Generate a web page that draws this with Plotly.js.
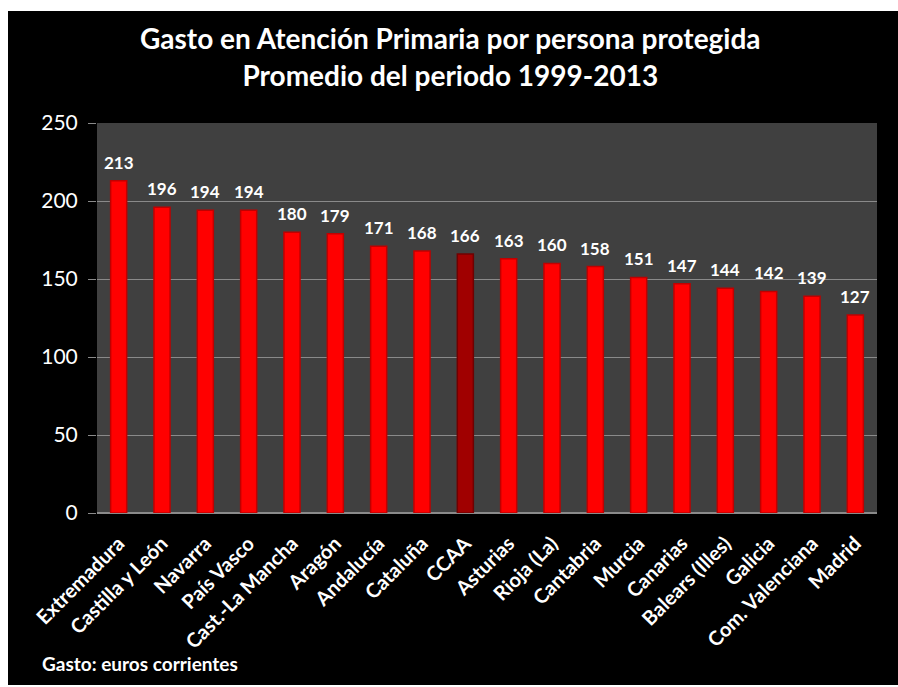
<!DOCTYPE html>
<html>
<head>
<meta charset="utf-8">
<script src="https://cdn.plot.ly/plotly-3.0.1.min.js"></script>
<style>
html,body{margin:0;padding:0;background:#ffffff;}
#chart{position:absolute;left:8px;top:11px;width:890px;height:674px;}
</style>
</head>
<body>
<div id="chart"></div>
<script>
const categories = ["Extremadura","Castilla y León","Navarra","País Vasco","Cast.-La Mancha","Aragón","Andalucía","Cataluña","CCAA","Asturias","Rioja (La)","Cantabria","Murcia","Canarias","Balears (Illes)","Galicia","Com. Valenciana","Madrid"];
const values = [213,196,194,194,180,179,171,168,166,163,160,158,151,147,144,142,139,127];
const highlight = "CCAA";
const yTicks = [0,50,100,150,200,250];

const FONT = "Lato, 'Open Sans', sans-serif";
const colors = categories.map(c => c === highlight ? "#a00000" : "#ff0000");
const lineColors = categories.map(c => c === highlight ? "#700000" : "#c00000");

const trace = {
  type: "bar",
  x: categories,
  y: values,
  marker: {color: colors, line: {color: lineColors, width: 1.5}},
  hoverinfo: "x+y"
};

const valueLabels = categories.map((c, i) => ({
  x: c, y: values[i],
  xref: "x", yref: "y",
  text: "<b>" + values[i] + "</b>",
  showarrow: false,
  yanchor: "bottom",
  yshift: 6,
  font: {family: FONT, size: 17, color: "#ffffff"}
}));

const layout = {
  width: 890, height: 674,
  paper_bgcolor: "#000000",
  plot_bgcolor: "#404040",
  margin: {l: 89, r: 21, t: 112, b: 172},
  bargap: 0.63,
  showlegend: false,
  title: {
    text: "<b>Gasto en Atención Primaria por persona protegida<br>Promedio del periodo 1999-2013</b>",
    font: {family: FONT, size: 28, color: "#ffffff"},
    x: 0.497, xanchor: "center", y: 0.943, yanchor: "top"
  },
  xaxis: {
    tickangle: -45,
    tickvals: categories,
    ticktext: categories.map(c => "<b>" + c + "</b>"),
    tickfont: {family: FONT, size: 20, color: "#ffffff"},
    showgrid: false,
    showline: false,
    ticks: "",
    ticklabelstandoff: 14,
    fixedrange: true
  },
  yaxis: {
    range: [0, 250],
    tickvals: yTicks,
    ticktext: yTicks.map(String),
    tickfont: {family: FONT, size: 21, color: "#ffffff"},
    showgrid: true,
    gridcolor: "#8a8a8a",
    gridwidth: 1,
    ticks: "outside",
    ticklen: 8,
    tickcolor: "#8a8a8a",
    showline: false,
    zeroline: true,
    zerolinecolor: "#8a8a8a",
    zerolinewidth: 2,
    ticklabelstandoff: 6,
    fixedrange: true
  },
  annotations: valueLabels.concat([{
    text: "<b>Gasto: euros corrientes</b>",
    xref: "paper", yref: "paper",
    x: -0.073, y: -0.385,
    xanchor: "left", yanchor: "middle",
    showarrow: false,
    font: {family: FONT, size: 19, color: "#ffffff"}
  }])
};

Plotly.newPlot("chart", [trace], layout, {displayModeBar: false, staticPlot: true});
</script>
</body>
</html>
